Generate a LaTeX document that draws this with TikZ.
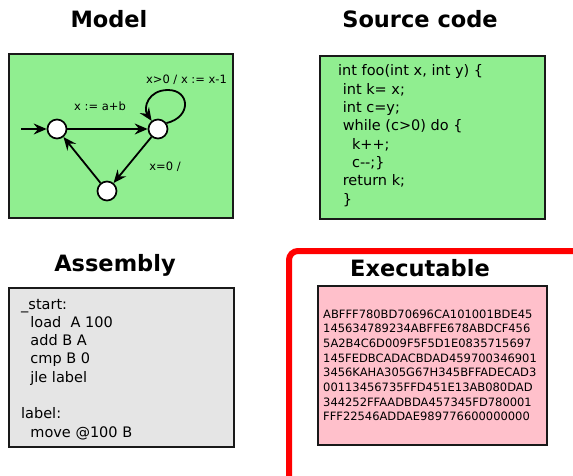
\documentclass[tikz,border=0pt]{standalone}
\usepackage{fontspec}
\setmainfont{DejaVu Sans}
\usetikzlibrary{arrows.meta}
\definecolor{modelgreen}{RGB}{144,238,144}
\definecolor{asmgrey}{RGB}{229,229,229}
\definecolor{exepink}{RGB}{255,192,203}
% horizontal indent measured in interword spaces
\newcommand\indsp[1]{\hspace*{#1\fontdimen2\font}}
\begin{document}
\begin{tikzpicture}[x=1pt,y=-1pt,
  title/.style={font=\fontsize{22.5}{26}\selectfont\bfseries, anchor=base, inner sep=0pt},
  panel/.style={draw=black!90, line width=1.5pt},
  codeline/.style={font=\fontsize{14.5}{17}\selectfont, anchor=base west, inner sep=0pt},
  hexline/.style={font=\fontsize{11.5}{13}\selectfont, anchor=base west, inner sep=0pt},
  state/.style={circle, draw=black, fill=white, line width=1.7pt, minimum size=19pt, inner sep=0pt},
  trans/.style={line width=1.8pt, -{Stealth[length=13pt,width=11pt,inset=4.5pt]}},
  translabel/.style={font=\fontsize{11.5}{14}\selectfont, anchor=base, inner sep=0pt}]
\useasboundingbox (0,0) rectangle (573,476);

% ---------- titles ----------
\node[title] (tmodel) at (109,28) {Model};
\node[title] (tsource) at (420,28) {Source code};
\node[title] (tasm) at (115,271) {Assembly};
\node[title] (texe) at (420,276) {Executable};

% ---------- panels ----------
\draw[panel, fill=modelgreen] (9,54) rectangle (233,218);
\draw[panel, fill=modelgreen] (320,56) rectangle (545,219);
\draw[panel, fill=asmgrey] (9,288) rectangle (234,447);
\draw[panel, fill=exepink] (318,286) rectangle (547,445);

% red frame around the executable
\draw[red, line width=6pt, rounded corners=9pt] (289,480) -- (289,251) -- (580,251);

% ---------- state machine ----------
\node[state] (s1) at (57,129) {};
\node[state] (s2) at (158,129) {};
\node[state] (s3) at (107,191) {};
\coordinate (init) at (21,129);
\draw[trans] (init) -- (s1);
\draw[trans] (s1) -- (s2);
\draw[trans] (s2) -- (s3);
\draw[trans] (s3) -- (s1);
\coordinate (looptop) at (168,90);
\draw[trans] (s2.35) .. controls (192,117) and (190,90) .. (looptop)
  .. controls (148,90) and (143,108) .. (s2.128);
\node[translabel] (l1) at (100,111) {x := a+b};
\node[translabel] (l2) at (186.5,84) {x>0 / x := x-1};
\node[translabel] (l3) at (165,171) {x=0 /};

% ---------- source code ----------
\node[codeline] (c1) at (338,76) {int foo(int x, int y) \{};
\node[codeline] (c2) at (338,94.3) {\indsp{1}int k= x;};
\node[codeline] (c3) at (338,112.6) {\indsp{1}int c=y;};
\node[codeline] (c4) at (338,130.9) {\indsp{1}while (c>0) do \{};
\node[codeline] (c5) at (338,149.2) {\indsp{3}k++;};
\node[codeline] (c6) at (338,167.5) {\indsp{3}c-{}-;\}};
\node[codeline] (c7) at (338,185.8) {\indsp{1}return k;};
\node[codeline] (c8) at (338,204.1) {\indsp{1}\}};

% ---------- assembly ----------
\node[codeline] (a1) at (21,309) {\_start:};
\node[codeline] (a2) at (21,327.3) {\indsp{2}load\indsp{2}A 100};
\node[codeline] (a3) at (21,345.6) {\indsp{2}add B A};
\node[codeline] (a4) at (21,363.9) {\indsp{2}cmp B 0};
\node[codeline] (a5) at (21,382.2) {\indsp{2}jle label};
\node[codeline] (a6) at (21,418.8) {label:};
\node[codeline] (a7) at (21,437.1) {\indsp{2}move @100 B};

% ---------- executable ----------
\node[hexline] (h1) at (323,318) {ABFFF780BD70696CA101001BDE45};
\node[hexline] (h2) at (323,332.7) {145634789234ABFFE678ABDCF456};
\node[hexline] (h3) at (323,347.3) {5A2B4C6D009F5F5D1E0835715697};
\node[hexline] (h4) at (323,362) {145FEDBCADACBDAD459700346901};
\node[hexline] (h5) at (323,376.7) {3456KAHA305G67H345BFFADECAD3};
\node[hexline] (h6) at (323,391.3) {00113456735FFD451E13AB080DAD};
\node[hexline] (h7) at (323,406) {344252FFAADBDA457345FD780001};
\node[hexline] (h8) at (323,420.7) {FFF22546ADDAE989776600000000};
\end{tikzpicture}
\end{document}
